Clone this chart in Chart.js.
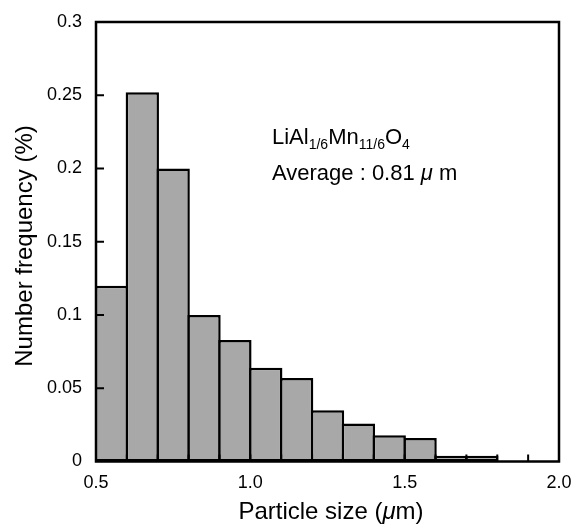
<!DOCTYPE html>
<html>
<head>
<meta charset="utf-8">
<script src="https://cdn.jsdelivr.net/npm/chart.js@4.4.1/dist/chart.umd.min.js"></script>
<style>
  html, body { margin: 0; padding: 0; background: #fff; }
</style>
</head>
<body>
<canvas id="myChart" width="573" height="526"></canvas>
<script>
// particle size histogram, bins of 0.1 um
const binCenters = [0.55, 0.65, 0.75, 0.85, 0.95, 1.05, 1.15, 1.25, 1.35, 1.45, 1.55, 1.65, 1.75];
const frequency = [0.120, 0.252, 0.200, 0.100, 0.083, 0.064, 0.057, 0.035, 0.026, 0.018, 0.016, 0.004, 0.004];
const xTickValues = [0.5, 1.0, 1.5, 2.0];
const yTickValues = [0, 0.05, 0.1, 0.15, 0.2, 0.25, 0.3];

const fontName = '"Liberation Sans", Arial, sans-serif';

// frame, inner ticks, titles and the note
const decor = {
    id: 'decor',
    afterDatasetsDraw(chart) {
        const ctx = chart.ctx;
        const a = chart.chartArea;
        const xs = chart.scales.x;
        const ys = chart.scales.y;
        ctx.save();
        ctx.strokeStyle = '#000';
        ctx.lineWidth = 2;
        ctx.beginPath();
        yTickValues.forEach(v => {
            if (v <= 0 || v >= 0.3) return;
            const py = ys.getPixelForValue(v);
            ctx.moveTo(a.left, py);
            ctx.lineTo(a.left + 8, py);
        });
        for (let i = 1; i < 15; i++) {
            const px = xs.getPixelForValue(0.5 + i * 0.1);
            ctx.moveTo(px, a.bottom);
            ctx.lineTo(px, a.bottom - 7);
        }
        ctx.stroke();

        ctx.lineWidth = 2.5;
        ctx.strokeRect(a.left, a.top, a.right - a.left, a.bottom - a.top);
        ctx.restore();
    },
    afterDraw(chart) {
        const ctx = chart.ctx;
        ctx.save();
        ctx.fillStyle = '#000';
        ctx.textBaseline = 'alphabetic';
        ctx.textAlign = 'left';

        // x title with italic mu
        const big = '24px ' + fontName;
        const bigIt = 'italic 24px ' + fontName;
        const parts = [['Particle size (', big], ['\u03bc', bigIt], ['m)', big]];
        let w = 0;
        parts.forEach(p => { ctx.font = p[1]; w += ctx.measureText(p[0]).width; });
        let x = 331 - w / 2;
        parts.forEach(p => { ctx.font = p[1]; ctx.fillText(p[0], x, 519); x += ctx.measureText(p[0]).width; });

        // y title
        ctx.save();
        ctx.translate(32, 246);
        ctx.rotate(-Math.PI / 2);
        ctx.font = big;
        ctx.textAlign = 'center';
        ctx.fillText('Number frequency (%)', 0, 0);
        ctx.restore();

        // note
        const nf = '22px ' + fontName;
        const sf = '14px ' + fontName;
        const formula = [['LiAl', 0], ['1/6', 1], ['Mn', 0], ['11/6', 1], ['O', 0], ['4', 1]];
        x = 272;
        formula.forEach(p => {
            ctx.font = p[1] ? sf : nf;
            ctx.fillText(p[0], x, p[1] ? 149 : 144);
            x += ctx.measureText(p[0]).width;
        });
        const avg = [['Average : 0.81 ', nf], ['\u03bc', 'italic 22px ' + fontName], [' m', nf]];
        x = 272;
        avg.forEach(p => { ctx.font = p[1]; ctx.fillText(p[0], x, 180); x += ctx.measureText(p[0]).width; });
        ctx.restore();
    }
};

const grafica = document.querySelector('#myChart');

const datos = {
    data: binCenters.map((c, i) => ({ x: c, y: frequency[i] })),
    backgroundColor: '#a8a8a8',
    borderColor: '#000',
    borderWidth: 2.5,
    borderSkipped: false,
    categoryPercentage: 1,
    barPercentage: 1.08
};

new Chart(grafica, {
    type: 'bar',
    data: { datasets: [datos] },
    plugins: [decor],
    options: {
        responsive: false,
        animation: false,
        layout: { padding: { top: 22, right: 14, left: 0, bottom: 0 } },
        plugins: {
            legend: { display: false },
            tooltip: { enabled: false }
        },
        scales: {
            x: {
                type: 'linear',
                min: 0.5,
                max: 2.0,
                offset: false,
                grid: { display: false, drawTicks: false },
                border: { display: false },
                afterBuildTicks: s => { s.ticks = xTickValues.map(v => ({ value: v })); },
                afterFit: s => { s.height = 64.5; s.paddingLeft = 0; s.paddingRight = 0; },
                ticks: {
                    color: '#000',
                    padding: 11,
                    maxRotation: 0,
                    autoSkip: false,
                    font: { family: fontName, size: 18 },
                    callback: v => Number(v).toFixed(1)
                }
            },
            y: {
                min: 0,
                max: 0.3,
                grid: { display: false, drawTicks: false },
                border: { display: false },
                afterBuildTicks: s => { s.ticks = yTickValues.map(v => ({ value: v })); },
                afterFit: s => { s.width = 96; s.paddingTop = 0; s.paddingBottom = 0; },
                ticks: {
                    color: '#000',
                    padding: 14,
                    autoSkip: false,
                    font: { family: fontName, size: 18 },
                    callback: v => String(parseFloat(Number(v).toFixed(2)))
                }
            }
        }
    }
});
</script>
</body>
</html>
